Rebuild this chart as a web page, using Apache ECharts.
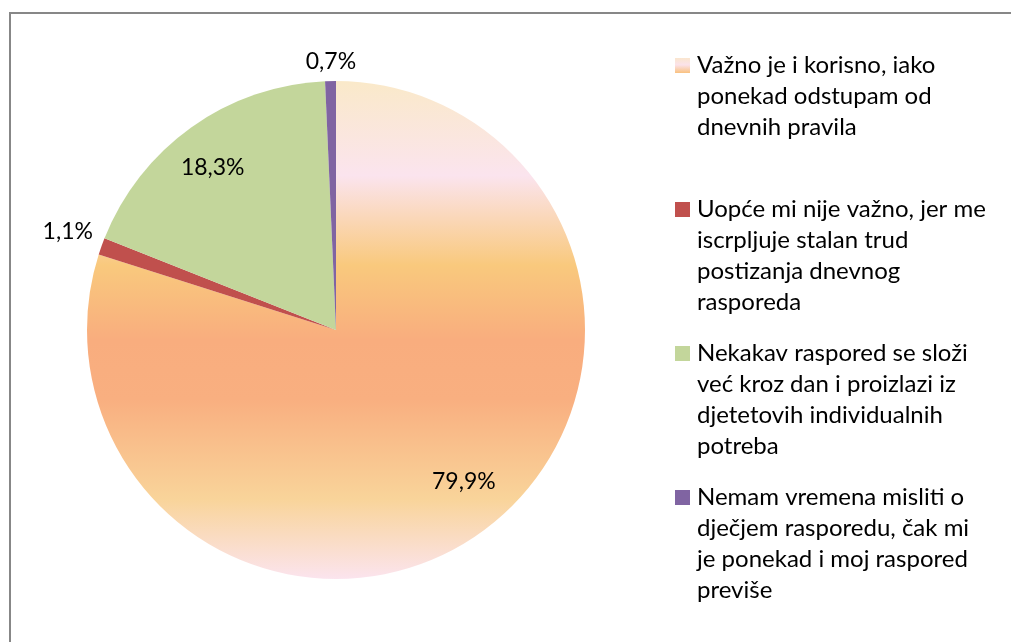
<!DOCTYPE html>
<html>
<head>
<meta charset="utf-8">
<script src="https://cdn.jsdelivr.net/npm/echarts@6/dist/echarts.min.js"></script>
<style>
  html, body { margin: 0; padding: 0; background: #fff; }
  #chart { width: 1011px; height: 642px; }
</style>
</head>
<body>
<div id="chart"></div>
<script>
const categories = [
  "Važno je i korisno, iako\nponekad odstupam od\ndnevnih pravila",
  "Uopće mi nije važno, jer me\niscrpljuje stalan trud\npostizanja dnevnog\nrasporeda",
  "Nekakav raspored se složi\nveć kroz dan i proizlazi iz\ndjetetovih individualnih\npotreba",
  "Nemam vremena misliti o\ndječjem rasporedu, čak mi\nje ponekad i moj raspored\npreviše"
];
const shares = [79.9, 1.1, 18.3, 0.7];
const colors = [
  {
    type: "linear", x: 0, y: 0, x2: 0, y2: 1,
    colorStops: [
      { offset: 0, color: "#FAE9C9" },
      { offset: 0.19, color: "#FBE4EE" },
      { offset: 0.37, color: "#F9C97D" },
      { offset: 0.52, color: "#F9AD7E" },
      { offset: 0.64, color: "#F9AF80" },
      { offset: 0.84, color: "#F9D49A" },
      { offset: 1, color: "#FBE4EE" }
    ]
  },
  "#C0504D",
  "#C3D69B",
  "#8064A2"
];
const legendIconColor = {
  type: "linear", x: 0, y: 0, x2: 0, y2: 1,
  colorStops: [
    { offset: 0.06, color: "#FAE6CC" },
    { offset: 0.12, color: "#FBE2EA" },
    { offset: 0.19, color: "#F9BF78" }
  ]
};
// label placement per slice (line lengths used to push labels in/out)
const labelLens = [[-61, -20], [43, -37], [-50, -29], [19, -31]];

const chart = echarts.init(document.getElementById("chart"));
const fmt = (v) => v.toFixed(1).replace(".", ",") + "%";

chart.setOption({
  backgroundColor: "#fff",
  animation: false,
  textStyle: { fontFamily: "Lato" },
  graphic: [{
    type: "rect",
    shape: { x: 10, y: 13, width: 1200, height: 1000 },
    style: { fill: "none", stroke: "#878787", lineWidth: 2 },
    silent: true
  }],
  legend: {
    orient: "vertical",
    left: 675,
    top: 50,
    padding: 0,
    itemGap: 20,
    itemWidth: 17,
    itemHeight: 124,
    icon: "path://M0,0L17,0M0,8H15V23H0ZM0,124L17,124",
    itemStyle: { borderWidth: 0 },
    selectedMode: false,
    // pad short names to four lines so every item lines up the same way
    formatter: (name) => name.split("\n").length < 4 ? name + "\n " : name,
    textStyle: { fontFamily: "Lato", fontSize: 24, lineHeight: 31, height: 124, color: "#000" },
    data: categories.map((c, i) => ({
      name: c,
      itemStyle: { color: i === 0 ? legendIconColor : colors[i] }
    }))
  },
  series: [{
    type: "pie",
    center: [336, 330],
    radius: 249,
    startAngle: 90,
    clockwise: true,
    avoidLabelOverlap: false,
    itemStyle: { borderWidth: 0 },
    emphasis: { disabled: true },
    label: {
      show: true,
      position: "outside",
      alignTo: "none",
      fontFamily: "Lato",
      fontSize: 23,
      color: "#000",
      formatter: (p) => fmt(p.value)
    },
    labelLine: { show: false },
    data: shares.map((v, i) => ({
      name: categories[i],
      value: v,
      itemStyle: { color: colors[i] },
      labelLine: { show: false, length: labelLens[i][0], length2: labelLens[i][1] }
    }))
  }]
});
</script>
</body>
</html>
